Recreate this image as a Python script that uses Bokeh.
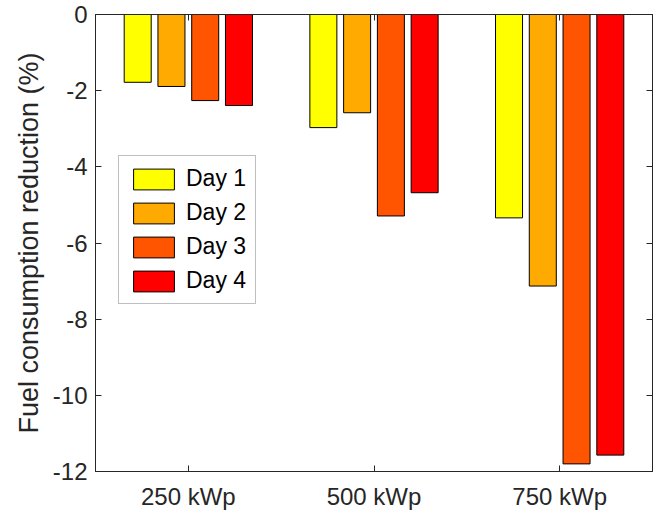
from bokeh.plotting import figure
from bokeh.models import (FactorRange, Range1d, ColumnDataSource, LinearAxis,
                          CategoricalAxis, FixedTicker, Legend, LegendItem,
                          PrintfTickFormatter, CustomJSTickFormatter)
from bokeh.transform import dodge
from bokeh.embed import file_html
from bokeh.resources import INLINE

# ---- data ----
categories = ["250 kWp", "500 kWp", "750 kWp"]
series_names = ["Day 1", "Day 2", "Day 3", "Day 4"]
day1 = [-1.78, -2.97, -5.34]
day2 = [-1.89, -2.58, -7.13]
day3 = [-2.26, -5.29, -11.80]
day4 = [-2.39, -4.68, -11.57]
y_ticks = [-12, -10, -8, -6, -4, -2, 0]
y_label = "Fuel consumption reduction (%)"

colors = ["#FFFF00", "#FFAA00", "#FF5500", "#FF0000"]
FONT = "Liberation Sans"
AX = "#262626"

source = ColumnDataSource(dict(cat=categories, d1=day1, d2=day2, d3=day3, d4=day4))
cols = ["d1", "d2", "d3", "d4"]

p = figure(width=661, height=512,
           x_range=FactorRange(*categories, range_padding=0),
           y_range=Range1d(-12, 0),
           output_backend="svg", toolbar_location=None,
           min_border_left=95, min_border_right=9,
           min_border_top=14, min_border_bottom=40)
p.background_fill_color = "white"
p.border_fill_color = "white"
p.outline_line_color = AX
p.xgrid.visible = False
p.ygrid.visible = False

n = len(cols)
gw = min(0.8, n / (n + 1.5))
bw = gw / n * 0.8
items = []
for i, (c, name, col) in enumerate(zip(cols, series_names, colors)):
    off = (i - (n - 1) / 2) * gw / n
    r = p.vbar(x=dodge("cat", off, range=p.x_range), top=c, bottom=0, width=bw,
               source=source, fill_color=col, line_color="black", line_width=1)
    items.append(LegendItem(label=name, renderers=[r]))

legend = Legend(items=items, location=(23, 167), margin=0, padding=9, spacing=7,
                glyph_width=51, glyph_height=26, label_standoff=7,
                label_text_font=FONT, label_text_font_size="23px",
                label_text_color="black", border_line_color="#808080",
                border_line_width=1, background_fill_color="white",
                background_fill_alpha=1)
p.add_layout(legend, "center")


def style(ax, labels=True):
    ax.axis_line_color = AX
    ax.axis_line_width = 1
    ax.major_tick_line_color = AX
    ax.major_tick_in = 6
    ax.major_tick_out = 0
    ax.minor_tick_line_color = None
    ax.major_label_text_font = FONT
    ax.major_label_text_color = AX
    if labels:
        ax.major_label_text_font_size = "24px"
    else:
        ax.major_label_text_font_size = "0px"
        ax.major_label_standoff = 0


yl = p.yaxis[0]
yl.ticker = FixedTicker(ticks=y_ticks)
yl.formatter = PrintfTickFormatter(format="%d")
style(yl)
yl.major_label_standoff = 8
yl.axis_label = y_label
yl.axis_label_text_font = FONT
yl.axis_label_text_font_size = "27px"
yl.axis_label_text_font_style = "normal"
yl.axis_label_text_color = AX
yl.axis_label_standoff = 6

xb = p.xaxis[0]
style(xb)
xb.major_label_standoff = 11

yr = LinearAxis(ticker=FixedTicker(ticks=y_ticks),
                formatter=CustomJSTickFormatter(code="return ''"))
style(yr, labels=False)
p.add_layout(yr, "right")

xt = CategoricalAxis(formatter=CustomJSTickFormatter(code="return ''"))
style(xt, labels=False)
p.add_layout(xt, "above")

open("out.html", "w").write(file_html(p, INLINE))
